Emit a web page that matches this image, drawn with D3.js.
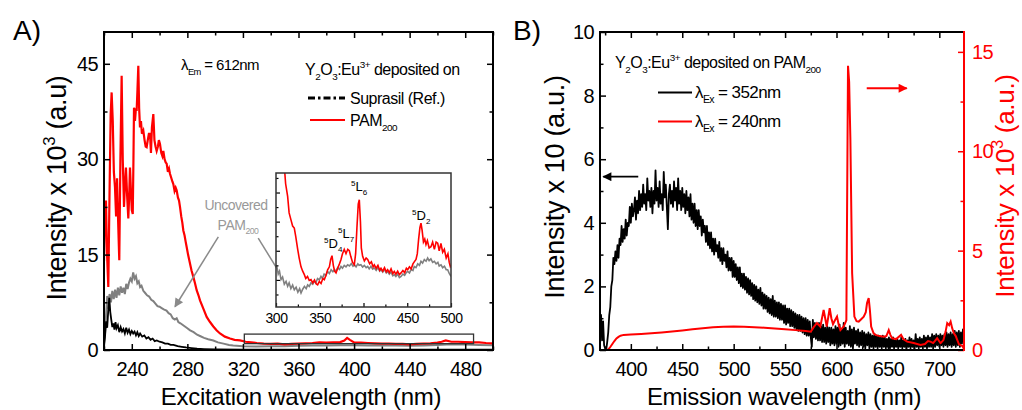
<!DOCTYPE html>
<html><head><meta charset="utf-8">
<script src="https://cdn.jsdelivr.net/npm/d3@7"></script>
<style>
body{margin:0;background:#fff;}
svg{display:block;font-family:"Liberation Sans",Arial,Helvetica,sans-serif;}
text{white-space:pre;}
</style></head><body>
<svg id="c" width="1022" height="410"></svg>
<script>
// ---------------- DATA ----------------
// Panel A: excitation spectra (lambda_Em = 612 nm), intensity x 10^3
const exSuprasil = [[220,0.8],[220.7,2],[221.5,4.5],[222.3,3.5],[223,6],[223.8,8.2],[224.5,6],[225.2,4.8],[226,3.6],[226.8,4.2],[227.5,3.2],[228.3,4.4],[229,3.4],[230,3.9],[231,2.8],[232,3.6],[233,2.9],[234,3.3],[235,2.6],[236,3.5],[237,2.7],[238,3.2],[239,2.5],[240,3.0],[241,2.6],[242,2.9],[243,2.3],[244,2.8],[245,2.2],[246,2.6],[247.5,2.1],[249,2.3],[250.5,1.8],[252,2.0],[253.5,1.6],[255,1.8],[256.5,1.4],[258,1.5],[260,1.3],[262,1.2],[264,1.0],[266,1.0],[268,0.8],[270,0.8],[273,0.6],[276,0.5],[279,0.4],[283,0.3],[287,0.2],[292,0.15],[300,0.1],[320,0.05],[350,0.05],[400,0.05],[450,0.05],[500,0.05]];
const exPAM = [[220,14],[220.7,22],[221.4,23.5],[222.2,15],[223.1,9.9],[224,25],[224.8,37],[225.5,40.5],[226.3,36],[227.1,28],[227.9,25.6],[228.7,21],[229.4,27],[230.2,20],[231,14.1],[231.8,30],[232.7,43.1],[233.5,30],[234.4,22.5],[235.1,26],[235.8,28.7],[236.7,24],[237.5,20.7],[238.1,24],[238.7,28.7],[239.4,25],[240,22],[240.7,21.4],[241.2,30],[241.6,38.1],[242.3,36],[243,38],[243.5,37.6],[244.1,41],[244.7,44.7],[245.3,38],[245.9,35],[246.6,36],[247.3,34],[248.3,34.5],[249.2,33],[250,32],[250.7,31.9],[251.5,33],[252.3,34],[253.1,34],[253.8,31],[254.5,35],[255.5,37.1],[256.3,33],[257.1,32],[257.9,31.3],[258.8,32],[259.5,33],[260.3,32.4],[261.2,31],[262,30.5],[262.7,31.3],[263.6,30],[264.4,29.5],[265.1,29.3],[266,28],[266.8,28.5],[267.5,27.7],[268.5,27],[269.2,26.5],[269.9,26.1],[270.8,25],[271.6,25.5],[272.3,25.1],[273.2,24],[274,23.5],[274.7,22.5],[275.6,21],[276.4,20],[277.1,18.8],[278,18],[278.8,17],[279.5,16.2],[280.5,15],[281.2,14.3],[281.9,13.6],[283,12.5],[284.3,11.5],[285.5,10.5],[286.7,9.4],[288,8.6],[289.1,7.8],[291.5,6.5],[293.9,5.2],[296.3,4.4],[298.7,3.7],[301,3.1],[303.5,2.6],[307,2.1],[310.7,1.8],[314,1.6],[317.9,1.5],[322,1.3],[326,1.2],[330,1.1],[335,1.0],[340,0.95],[345,1.0],[350,0.9],[355,0.95],[360,1.0],[365,1.05],[370,1.1],[375,1.2],[380,1.15],[385,1.2],[390,1.25],[393,1.5],[395,1.9],[397,1.6],[400,1.2],[405,1.15],[410,1.1],[415,1.05],[420,1.0],[425,1.0],[430,0.95],[435,0.95],[440,0.9],[445,0.95],[450,1.0],[455,1.05],[460,1.15],[463,1.3],[466,1.5],[470,1.3],[475,1.3],[480,1.25],[485,1.2],[490,1.2],[495,1.1],[500,1.05]];
const exUncovered = [[220,0.3],[220.7,2.5],[221.5,5.5],[222.3,8.5],[223,6.5],[224,8.8],[225,7.5],[226,9.3],[227,8],[228,9.5],[229,8.2],[230,9.8],[231,8.6],[232,10],[233,9],[234,9.8],[235,8.8],[236,10.4],[237,9.6],[238,10.6],[239,11.2],[240,10.8],[241,12.2],[242,11.2],[243,11.6],[244,10.5],[245,10.8],[246,9.9],[247,10.1],[248.3,9.3],[249.5,9.0],[251,8.6],[252.5,8.4],[254,7.9],[255.5,7.7],[257,7.3],[258.5,6.9],[260,6.8],[261.5,6.6],[263,6.4],[265,6.2],[266.5,5.8],[268,5.6],[269.5,5.0],[271,4.8],[272.3,5.0],[273.5,4.4],[275,4.2],[277,3.9],[279.5,3.5],[282,3.1],[284.5,2.8],[287,2.4],[289.1,2.2],[292,1.9],[295,1.7],[298.7,1.5],[302,1.2],[306,1.0],[310,0.8],[313,0.7],[320,0.6],[330,0.55],[340,0.6],[350,0.6],[360,0.65],[370,0.7],[380,0.7],[390,0.75],[400,0.75],[410,0.7],[420,0.7],[430,0.7],[440,0.65],[450,0.7],[460,0.8],[470,0.9],[480,0.85],[490,0.8],[500,0.75]];
// Inset (300-500 nm, arbitrary units)
const insetPAM = [[308,5.6],[309.5,4.9],[311,4.3],[313.3,3.87],[315,3.3],[317.1,3.06],[319,2.85],[320.9,2.78],[322.5,2.5],[324.8,2.05],[326.5,1.75],[328.6,1.45],[330.5,1.3],[332.4,1.18],[334,1.05],[336,1.12],[338,0.98],[340,1.01],[342,0.9],[344,1.0],[346,0.86],[347.6,0.83],[349.5,0.95],[351.5,0.88],[353.5,1.05],[355.2,1.01],[357,1.15],[359,1.35],[361,1.45],[362.5,1.7],[364,1.83],[365.5,1.5],[367,1.3],[368.6,1.24],[370.5,1.4],[372.5,1.55],[374.3,1.7],[376,1.9],[378,2.05],[380,1.9],[382,2.05],[383.8,2.0],[385.5,1.8],[387.5,1.6],[389.5,1.52],[391,1.9],[392.5,2.8],[394,3.6],[395.2,3.75],[396.5,3.0],[397.5,2.1],[399,1.81],[401,1.65],[403,1.75],[404.8,1.7],[407,1.55],[409,1.62],[411,1.45],[412.4,1.52],[414.5,1.4],[416.5,1.5],[418.5,1.33],[420,1.4],[422,1.3],[424,1.42],[426,1.28],[427.6,1.35],[429.5,1.25],[431.5,1.38],[433.5,1.22],[435.2,1.29],[437,1.2],[439,1.3],[441,1.18],[442.9,1.24],[445,1.32],[447,1.25],[449,1.4],[450.5,1.35],[452.5,1.45],[454.5,1.38],[456.5,1.55],[458,1.62],[460,1.7],[461.5,1.9],[463,2.4],[464.5,2.8],[465.7,2.95],[467,2.7],[468.5,2.3],[470,2.4],[471.4,2.21],[473,2.35],[475,2.1],[477.1,2.14],[479,2.3],[481,2.05],[483,2.3],[484.8,2.26],[486.5,2.0],[488.5,2.25],[490.5,1.95],[492.4,2.05],[494.5,1.75],[496.5,1.9],[498,1.6],[499.2,1.46],[500,1.5]];
const insetUncovered = [[300,1.5],[301,1.46],[302.5,1.2],[304,1.3],[305.7,1.01],[307.5,1.1],[309.5,0.85],[311.5,0.95],[313.3,0.78],[315,0.9],[317,0.7],[319,0.82],[320.9,0.66],[323,0.75],[325,0.58],[327,0.7],[328.6,0.55],[330.5,0.68],[332.5,0.78],[334.5,0.7],[336.2,0.83],[338,0.78],[340,0.9],[342,0.85],[343.8,0.95],[345.5,0.9],[347.5,1.05],[349.5,1.0],[351.4,1.12],[353,1.05],[355,1.2],[357,1.15],[359,1.29],[361,1.22],[363,1.35],[365,1.28],[366.7,1.35],[368.5,1.3],[370.5,1.42],[372.5,1.36],[374.3,1.46],[376,1.4],[378,1.5],[380,1.45],[381.9,1.52],[384,1.48],[386,1.56],[388,1.47],[389.5,1.52],[391.5,1.45],[393.5,1.55],[395,1.5],[397,1.52],[399,1.44],[401,1.5],[403,1.42],[404.8,1.46],[406.5,1.38],[408.5,1.47],[410.5,1.37],[412.4,1.41],[414.5,1.33],[416.5,1.42],[418.5,1.3],[420,1.35],[422,1.27],[424,1.36],[426,1.24],[427.6,1.29],[429.5,1.2],[431.5,1.27],[433.5,1.14],[435.2,1.18],[437,1.12],[439,1.2],[441,1.08],[442.9,1.12],[445,1.2],[447,1.16],[449,1.26],[450.5,1.29],[452.5,1.24],[454.5,1.36],[456.5,1.32],[458,1.46],[460,1.42],[462,1.55],[464,1.5],[465.7,1.64],[467.5,1.58],[469.5,1.7],[471.5,1.64],[473.3,1.75],[475,1.66],[477,1.72],[479,1.6],[481,1.64],[483,1.55],[485,1.6],[486.5,1.48],[488.6,1.52],[490.5,1.42],[492.5,1.47],[494.5,1.35],[496.2,1.35],[498,1.22],[500,1.12]];
// Panel B: emission spectrum, lambda_Ex = 352 nm (left axis), sampled every 1 nm from 370 nm
const em352Start = 370, em352Step = 1;
const em352Values = [
0.6,1.1,0.3,0.9,0.15,0.05,0.0,0.25,0.55,1.1, 1.35,2.0,2.2,2.9,2.7,3.1,2.8,3.3,2.9,3.5,
3.3,3.9,3.4,3.8,3.5,4.1,3.6,4.0,3.9,4.5, 4.0,4.6,4.2,4.4,4.8,4.1,4.7,4.3,5.0,4.4,
4.9,4.5,5.2,4.6,4.9,4.4,5.4,4.7,5.0,4.5, 5.1,4.3,5.0,4.6,5.65,4.7,5.1,4.5,5.3,4.6,
4.9,4.4,5.6,4.8,5.2,4.5,3.8,4.9,5.2,4.6, 5.0,4.5,5.3,4.7,5.1,4.4,5.4,4.6,5.0,4.4,
5.1,4.5,4.9,4.3,5.0,4.4,4.8,4.2,4.9,4.1, 4.6,4.0,4.6,3.9,4.4,3.8,4.4,3.9,4.2,3.6,
4.1,3.7,3.9,3.4,3.9,3.3,3.7,3.2,3.7,3.1, 3.5,3.0,3.5,3.1,3.3,2.9,3.4,2.8,3.2,2.7,
3.2,2.8,3.0,2.6,3.1,2.5,2.9,2.5,2.9,2.3, 2.8,2.3,2.7,2.2,2.6,2.1,2.6,2.0,2.4,1.95,
2.4,1.9,2.3,1.8,2.25,1.75,2.2,1.7,2.1,1.6, 2.05,1.55,2.0,1.5,1.9,1.45,1.95,1.4,1.8,1.3,
1.75,1.3,1.7,1.2,1.65,1.15,1.6,1.1,1.7,1.05, 1.55,1.05,1.5,1.0,1.5,0.95,1.45,0.95,1.4,0.85,
1.4,0.8,1.3,0.85,1.3,0.75,1.25,0.75,1.2,0.7, 1.15,0.65,1.1,0.6,1.1,0.6,1.05,0.55,1.0,0.5,
1.0,0.45,0.95,0.45,0.9,0.4,0.1,0.95,0.4,0.85, 0.35,0.8,0.3,0.85,0.3,0.75,0.25,0.8,0.25,0.7,
0.2,0.75,0.25,0.7,0.15,0.7,0.2,0.65,0.15,0.75, 0.2,0.7,0.1,0.8,0.15,0.65,0.2,0.85,0.1,0.7,
0.2,0.6,0.15,0.75,0.1,0.65,0.05,0.7,0.2,0.6, 0.15,0.65,0.1,0.55,0.15,0.6,0.1,0.55,0.05,0.5,
0.15,0.55,0.05,0.5,0.1,0.45,0.05,0.5,0.1,0.45, 0.05,0.45,0.1,0.4,0.05,0.45,0.1,0.4,0.05,0.35,
0.1,0.4,0.05,0.35,0.1,0.4,0.05,0.3,0.1,0.35, 0.05,0.3,0.1,0.4,0.05,0.3,0.1,0.35,0.0,0.3,
0.1,0.4,0.05,0.35,0.1,0.3,0.05,0.5,0.1,0.35, 0.05,0.4,0.1,0.35,0.05,0.45,0.1,0.4,0.05,0.45,
0.1,0.4,0.1,0.5,0.05,0.45,0.1,0.5,0.15,0.45, 0.1,0.5,0.15,0.45,0.1,0.5,0.15,0.55,0.1,0.5,
0.15,0.55,0.1,0.5,0.15,0.6,0.1,0.55,0.15,0.6, 0.1,0.55,0.2,0.65,0.3];
const emEx352 = em352Values.map((v,i) => [em352Start + i*em352Step, v]);
// Panel B: emission spectrum, lambda_Ex = 240 nm (right axis, x 10^3)
const emEx240 = [[372,0],[376,0],[378,0.02],[380,0.15],[382,0.3],[384,0.45],[386,0.58],[388,0.66],[390,0.72],[393,0.76],[400,0.78],[410,0.81],[420,0.84],[430,0.88],[440,0.93],[450,0.98],[460,1.04],[470,1.1],[480,1.14],[490,1.17],[500,1.18],[510,1.17],[520,1.15],[530,1.12],[540,1.08],[550,1.05],[560,1.0],[570,0.96],[575,0.92],[577.8,1.15],[581,1.36],[584.3,1.18],[587.5,2.02],[589,1.6],[590.5,1.18],[593.4,2.1],[595,1.6],[596.6,1.3],[598.5,1.5],[600.5,1.68],[602,1.3],[603.8,1.0],[607,1.18],[609.6,1.5],[611.2,14.3],[612.3,13.5],[613.5,10.6],[615.2,3.87],[617.4,1.68],[619.5,1.45],[621.6,1.43],[624,1.55],[626.5,1.68],[628.5,1.9],[629.7,2.36],[631.3,2.61],[632.5,2.0],[633.7,1.18],[636,0.85],[637.9,0.76],[642,0.7],[645.9,0.67],[648.5,0.7],[650.8,1.0],[652.5,0.75],[654.1,0.59],[658,0.55],[662.8,0.76],[665,0.55],[668.7,0.42],[675,0.35],[681.7,0.25],[686,0.3],[689,0.45],[691.4,0.42],[694,0.35],[697.9,0.59],[701.2,0.34],[704,0.5],[706,0.9],[707.7,1.35],[709.5,1.25],[711,1.43],[712.5,1.1],[714.2,0.84],[716,0.7],[717.5,0.5],[719,0.3],[720.7,0.25],[722.5,0.2],[724,0.05]];

// Tick values
const axMajor = [240,280,320,360,400,440,480];
const axMinor = [220,260,300,340,380,420,460,500];
const ayMajor = [0,15,30,45];
const ayMinor = [7.5,22.5,37.5];
const insetXMajor = [300,350,400,450,500];
const insetXMinor = [325,375,425,475];
const insetYMajor = [1,2,3,4];
const insetYMinor = [0.5,1.5,2.5,3.5,4.5];
const bxMajor = [400,450,500,550,600,650,700];
const bxMinor = [375,425,475,525,575,625,675];
const byLMajor = [0,2,4,6,8,10];
const byLMinor = [1,3,5,7,9];
const byRMajor = [0,5,10,15];
const byRMinor = [2.5,7.5,12.5];

// ---------------- DRAW ----------------
const RED = "#ff0000", GRAY = "#808080";
const svg = d3.select("#c");
const defs = svg.append("defs");
function marker(id, color){
  defs.append("marker").attr("id",id).attr("viewBox","0 0 10 10").attr("refX",9).attr("refY",5)
    .attr("markerWidth",11).attr("markerHeight",9).attr("markerUnits","userSpaceOnUse").attr("orient","auto")
    .append("path").attr("d","M0,0 L10,5 L0,10 Z").attr("fill",color);
}
marker("arG", "#8a8a8a"); marker("arK", "#000"); marker("arR", RED);

function addAxis(parent, make, tx, ty, major, minor, o){
  const g = parent.append("g").attr("transform",`translate(${tx},${ty})`);
  const gm = g.append("g").call(make().tickValues(major).tickSizeInner(-(o.len||6)).tickSizeOuter(0)
     .tickPadding(o.pad||6).tickFormat(o.labels ? (o.fmt||d3.format("d")) : () => ""));
  g.append("g").call(make().tickValues(minor).tickSizeInner(-(o.mlen||3.5)).tickSizeOuter(0).tickFormat(() => ""));
  g.selectAll(".domain").remove();
  g.selectAll("line").attr("stroke", o.color||"#000").attr("stroke-width", o.sw||1.5);
  gm.attr("font-family",'"Liberation Sans",Arial,sans-serif').attr("font-size", o.size||20);
  gm.selectAll("text").attr("fill", o.color||"#000").attr("letter-spacing", o.ls==null ? -0.6 : o.ls);
  return g;
}
function rich(parent, x, y, parts, size, color, anchor){
  const t = parent.append("text").attr("x",x).attr("y",y).attr("font-size",size)
    .attr("fill",color||"#000").attr("text-anchor",anchor||"start");
  let cur = 0;
  parts.forEach(([s,k]) => {
    const off = k==="sub" ? 0.3*size : k==="sup" ? -0.42*size : 0;
    const fs = k==="n" ? size : size*0.62;
    t.append("tspan").attr("dy", off-cur).attr("font-size", fs).text(s);
    cur = off;
  });
  return t;
}

// ===== Panel A =====
const xA = d3.scaleLinear().domain([220,500]).range([104,493]);
const yA = d3.scaleLinear().domain([0,50]).range([350,32]);
const gA = svg.append("g");
defs.append("clipPath").attr("id","clipA").append("rect").attr("x",104).attr("y",32).attr("width",389).attr("height",318);
const lineA = d3.line().x(d=>xA(d[0])).y(d=>yA(d[1]));
const dA = gA.append("g").attr("clip-path","url(#clipA)");
dA.append("path").datum(exUncovered).attr("d",lineA).attr("fill","none").attr("stroke",GRAY).attr("stroke-width",2);
dA.append("path").datum(exSuprasil).attr("d",lineA).attr("fill","none").attr("stroke","#000").attr("stroke-width",1.8);
dA.append("path").datum(exPAM).attr("d",lineA).attr("fill","none").attr("stroke",RED).attr("stroke-width",2.2);

// bracket rectangle marking the inset range
gA.append("rect").attr("x",xA(321)).attr("y",yA(2.5)).attr("width",xA(486)-xA(321)).attr("height",yA(1.0)-yA(2.5))
  .attr("fill","none").attr("stroke","#333").attr("stroke-width",1.3);

addAxis(gA, ()=>d3.axisBottom(xA), 0, 350, axMajor, axMinor, {labels:true, pad:12});
addAxis(gA, ()=>d3.axisTop(xA), 0, 32, axMajor, axMinor, {labels:false});
addAxis(gA, ()=>d3.axisLeft(yA), 104, 0, ayMajor, ayMinor, {labels:true, pad:6});
addAxis(gA, ()=>d3.axisRight(yA), 493, 0, ayMajor, ayMinor, {labels:false});
gA.append("rect").attr("x",104).attr("y",32).attr("width",389).attr("height",318).attr("fill","none").attr("stroke","#000").attr("stroke-width",2);

gA.append("text").attr("x",13).attr("y",40).attr("font-size",28).text("A)");
gA.append("text").attr("x",301).attr("y",405).attr("text-anchor","middle").attr("font-size",24).attr("letter-spacing",-0.3).text("Excitation wavelength (nm)");
rich(gA.append("g").attr("transform","translate(66,188) rotate(-90)"), 0, 0,
  [["Intensity x 10","n"],["3","sup"],[" (a.u)","n"]], 27, "#000", "middle").attr("letter-spacing",-0.3);

rich(gA, 181, 70, [["λ","n"],["Em","sub"],[" = 612nm","n"]], 15, "#000").attr("letter-spacing",-0.6);
rich(gA, 305, 75, [["Y","n"],["2","sub"],["O","n"],["3","sub"],[":Eu","n"],["3+","sup"],[" deposited on","n"]], 16, "#000").attr("letter-spacing",-0.5);
gA.append("line").attr("x1",308).attr("x2",345).attr("y1",98).attr("y2",98).attr("stroke","#000").attr("stroke-width",2.8).attr("stroke-dasharray","7,3,2.5,3");
gA.append("text").attr("x",350).attr("y",104).attr("font-size",16).attr("letter-spacing",-0.5).text("Suprasil (Ref.)");
gA.append("line").attr("x1",310).attr("x2",345).attr("y1",120).attr("y2",120).attr("stroke",RED).attr("stroke-width",2);
rich(gA, 350, 126, [["PAM","n"],["200","sub"]], 16, "#000").attr("letter-spacing",-0.5);

gA.append("text").attr("x",236).attr("y",210).attr("text-anchor","middle").attr("font-size",14).attr("fill","#999").attr("letter-spacing",-0.5).text("Uncovered");
rich(gA, 238, 230, [["PAM","n"],["200","sub"]], 14, "#999", "middle").attr("letter-spacing",-0.5);
gA.append("line").attr("x1",xA(302.3)).attr("y1",yA(17.8)).attr("x2",xA(271.1)).attr("y2",yA(6.8))
  .attr("stroke","#8a8a8a").attr("stroke-width",1.5).attr("marker-end","url(#arG)");
gA.append("line").attr("x1",xA(331)).attr("y1",yA(17.6)).attr("x2",xA(344.2)).attr("y2",yA(12.9))
  .attr("stroke","#8a8a8a").attr("stroke-width",1.5);

// ===== Inset =====
const xI = d3.scaleLinear().domain([300,500]).range([276,451]);
const yI = d3.scaleLinear().domain([0.07,4.67]).range([307,173]);
const gI = svg.append("g");
gI.append("rect").attr("x",276).attr("y",173).attr("width",175).attr("height",134).attr("fill","#fff");
defs.append("clipPath").attr("id","clipI").append("rect").attr("x",276).attr("y",173).attr("width",175).attr("height",134);
const lineI = d3.line().x(d=>xI(d[0])).y(d=>yI(d[1]));
const dI = gI.append("g").attr("clip-path","url(#clipI)");
dI.append("path").datum(insetUncovered).attr("d",lineI).attr("fill","none").attr("stroke",GRAY).attr("stroke-width",1.6);
dI.append("path").datum(insetPAM).attr("d",lineI).attr("fill","none").attr("stroke",RED).attr("stroke-width",1.6);
addAxis(gI, ()=>d3.axisBottom(xI), 0, 307, insetXMajor, insetXMinor, {labels:true, pad:6, size:14, len:4, mlen:2.5, sw:1.2, ls:-0.5});
addAxis(gI, ()=>d3.axisLeft(yI), 276, 0, insetYMajor, insetYMinor, {labels:false, len:4, mlen:2.5, sw:1.2});
gI.append("rect").attr("x",276).attr("y",173).attr("width",175).attr("height",134).attr("fill","none").attr("stroke","#333").attr("stroke-width",1.5);
rich(gI, 324, 248, [["5","sup"],["D","n"],["4","sub"]], 13, "#000");
rich(gI, 338, 238, [["5","sup"],["L","n"],["7","sub"]], 13, "#000");
rich(gI, 351, 191, [["5","sup"],["L","n"],["6","sub"]], 13, "#000");
rich(gI, 412, 220, [["5","sup"],["D","n"],["2","sub"]], 13, "#000");

// ===== Panel B =====
const xB = d3.scaleLinear().domain([370,724]).range([600,964]);
const yBL = d3.scaleLinear().domain([0,10]).range([350,32]);
const yBR = d3.scaleLinear().domain([0,16]).range([350,32]);
const gB = svg.append("g");
defs.append("clipPath").attr("id","clipB").append("rect").attr("x",600).attr("y",32).attr("width",364).attr("height",318);
const dB = gB.append("g").attr("clip-path","url(#clipB)");
dB.append("path").datum(emEx352).attr("d", d3.line().x(d=>xB(d[0])).y(d=>yBL(d[1])))
  .attr("fill","none").attr("stroke","#000").attr("stroke-width",1.8).attr("stroke-linejoin","round");
dB.append("path").datum(emEx240).attr("d", d3.line().x(d=>xB(d[0])).y(d=>yBR(d[1])))
  .attr("fill","none").attr("stroke",RED).attr("stroke-width",2);

addAxis(gB, ()=>d3.axisBottom(xB), 0, 350, bxMajor, bxMinor, {labels:true, pad:12});
addAxis(gB, ()=>d3.axisTop(xB), 0, 32, bxMajor, bxMinor, {labels:false});
addAxis(gB, ()=>d3.axisLeft(yBL), 600, 0, byLMajor, byLMinor, {labels:true, pad:6});
addAxis(gB, ()=>d3.axisRight(yBR), 964, 0, byRMajor, byRMinor, {labels:true, pad:8, color:RED});
gB.append("path").attr("d","M964,32 L600,32 L600,350 L964,350").attr("fill","none").attr("stroke","#000").attr("stroke-width",2);
gB.append("line").attr("x1",964).attr("x2",964).attr("y1",31).attr("y2",351).attr("stroke",RED).attr("stroke-width",2);

gB.append("text").attr("x",513).attr("y",40).attr("font-size",28).text("B)");
gB.append("text").attr("x",784).attr("y",405).attr("text-anchor","middle").attr("font-size",24).attr("letter-spacing",-0.3).text("Emission wavelength (nm)");
gB.append("text").attr("transform","translate(564,187) rotate(-90)").attr("text-anchor","middle").attr("font-size",27).attr("letter-spacing",-0.3).text("Intensity x 10 (a.u.)");
rich(gB.append("g").attr("transform","translate(1014,186) rotate(-90)"), 0, 0,
  [["Intensity x 10","n"],["3","sup"],[" (a.u.)","n"]], 26, RED, "middle").attr("letter-spacing",-0.3);

rich(gB, 615, 68, [["Y","n"],["2","sub"],["O","n"],["3","sub"],[":Eu","n"],["3+","sup"],[" deposited on PAM","n"],["200","sub"]], 16, "#000").attr("letter-spacing",-0.5);
gB.append("line").attr("x1",658).attr("x2",692).attr("y1",92.5).attr("y2",92.5).attr("stroke","#000").attr("stroke-width",2.2);
rich(gB, 695, 98, [["λ","n"],["Ex","sub"],[" = 352nm","n"]], 17, "#000").attr("letter-spacing",-0.6);
gB.append("line").attr("x1",658).attr("x2",692).attr("y1",121.5).attr("y2",121.5).attr("stroke",RED).attr("stroke-width",2.2);
rich(gB, 695, 127, [["λ","n"],["Ex","sub"],[" = 240nm","n"]], 17, "#000").attr("letter-spacing",-0.6);

gB.append("line").attr("x1",xB(407.2)).attr("x2",xB(373.2)).attr("y1",yBL(5.45)).attr("y2",yBL(5.45))
  .attr("stroke","#000").attr("stroke-width",1.8).attr("marker-end","url(#arK)");
gB.append("line").attr("x1",xB(629.4)).attr("x2",xB(668.3)).attr("y1",yBR(13.17)).attr("y2",yBR(13.17))
  .attr("stroke",RED).attr("stroke-width",1.8).attr("marker-end","url(#arR)");
</script>
</body></html>
